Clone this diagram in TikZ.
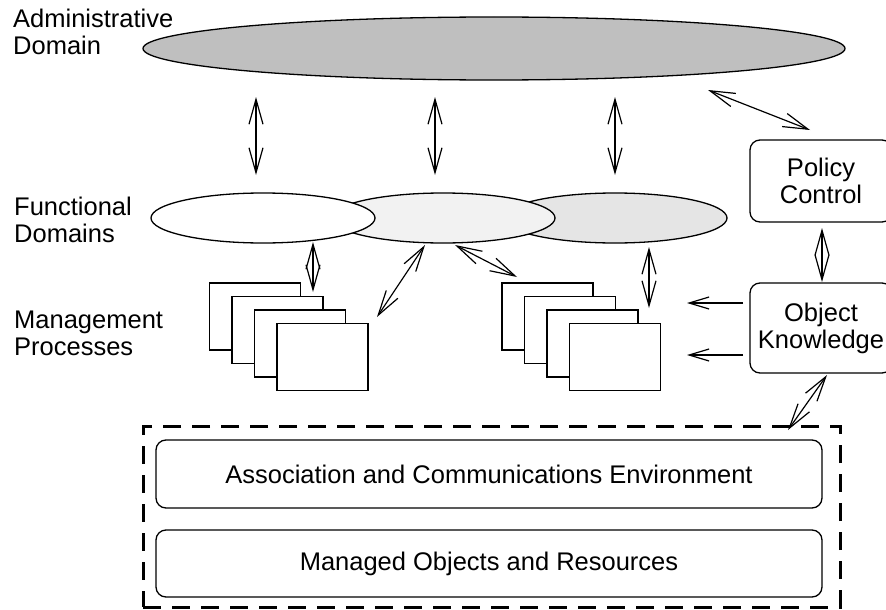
\documentclass[tikz,border=0pt]{standalone}
\usepackage{fontspec}
\setmainfont{Liberation Sans}
\usetikzlibrary{shapes.geometric,arrows.meta}
\definecolor{admgray}{HTML}{BFBFBF}
\definecolor{fdtwo}{HTML}{F2F2F2}
\definecolor{fdthree}{HTML}{E5E5E5}
\begin{document}
\begin{tikzpicture}[x=1pt,y=-1pt,
 every node/.style={font=\fontsize{25.5}{27}\selectfont},
 lbl/.style={align=left, inner sep=0pt, anchor=base west},
 ell/.style={ellipse, draw, line width=1.3pt, inner sep=0pt, minimum width=224pt, minimum height=50pt},
 page/.style={rectangle, draw, fill=white, line width=1.3pt, minimum width=91pt, minimum height=67pt, inner sep=0pt},
 rbox/.style={rectangle, rounded corners=10pt, draw, line width=1.3pt, inner sep=0pt, align=center},
 arr/.style={line width=1.2pt, {Straight Barb[length=25pt,width=14pt]}-{Straight Barb[length=25pt,width=14pt]}},
 sarr/.style={line width=1.2pt, -{Straight Barb[length=20pt,width=12pt]}}
]
\useasboundingbox (0,0) rectangle (886,610);
\clip (0,0) rectangle (886,610);

% labels (anchor = baseline of the last line)
\node[lbl] (admlbl) at (13,55) {Administrative\\Domain};
\node[lbl] (fdlbl) at (14,242) {Functional\\Domains};
\node[lbl] (mplbl) at (14,355) {Management\\Processes};

% administrative domain
\node[ellipse, draw, fill=admgray, line width=1.3pt, inner sep=0pt,
      minimum width=702pt, minimum height=63pt] (admin) at (494,48.5) {};

% functional domains
\node[ell, fill=fdthree] (fd3) at (615,218) {};
\node[ell, fill=fdtwo] (fd2) at (443,218) {};
\node[ell, fill=white] (fd1) at (263,218) {};

% management processes (left stack)
\node[page] (lp1) at (255,316.5) {};
\node[page] (lp2) at (277.5,330) {};
\node[page] (lp3) at (300,343.5) {};
\node[page] (lp4) at (322.5,357) {};
% right stack
\node[page] (rp1) at (547.5,316.5) {};
\node[page] (rp2) at (570,330) {};
\node[page] (rp3) at (592.5,343.5) {};
\node[page] (rp4) at (615,357) {};

% policy / object
\node[rbox, minimum width=142pt, minimum height=82pt] (policy) at (821,181) {Policy\\Control};
\node[rbox, minimum width=142pt, minimum height=90pt] (object) at (821,328) {Object\\Knowledge};

% environment
\node[draw, line width=3pt, dash pattern=on 18pt off 11pt, inner sep=0pt,
      minimum width=697pt, minimum height=181pt] (env) at (491.5,516.5) {};
\node[rbox, minimum width=666pt, minimum height=68pt] (ace) at (489,474) {Association and Communications Environment};
\node[rbox, minimum width=666pt, minimum height=67pt] (mor) at (489,563.5) {Managed Objects and Resources};

% connector end points
\coordinate (a1s) at (256,97);  \coordinate (a1e) at (256,175);
\coordinate (a2s) at (435,97);  \coordinate (a2e) at (435,175);
\coordinate (a3s) at (615,97);  \coordinate (a3e) at (615,175);
\coordinate (a4s) at (708,90);  \coordinate (a4e) at (810,130);
\coordinate (a5s) at (822,228); \coordinate (a5e) at (822,282);
\coordinate (a6s) at (313,242); \coordinate (a6e) at (313,292);
\coordinate (a7s) at (425,245); \coordinate (a7e) at (377,317);
\coordinate (a8s) at (455,245); \coordinate (a8e) at (517,277);
\coordinate (a9s) at (649,247); \coordinate (a9e) at (649,308);
\coordinate (a10s) at (827,375); \coordinate (a10e) at (788,430);
\coordinate (h1s) at (743,303); \coordinate (h1e) at (687,303);
\coordinate (h2s) at (743,355); \coordinate (h2e) at (687,355);

\draw[arr] (a1s) -- (a1e);
\draw[arr] (a2s) -- (a2e);
\draw[arr] (a3s) -- (a3e);
\draw[arr] (a4s) -- (a4e);
\draw[arr] (a5s) -- (a5e);
\draw[arr] (a6s) -- (a6e);
\draw[arr] (a7s) -- (a7e);
\draw[arr] (a8s) -- (a8e);
\draw[arr] (a9s) -- (a9e);
\draw[arr] (a10s) -- (a10e);
\draw[sarr] (h1s) -- (h1e);
\draw[sarr] (h2s) -- (h2e);
\end{tikzpicture}
\end{document}
